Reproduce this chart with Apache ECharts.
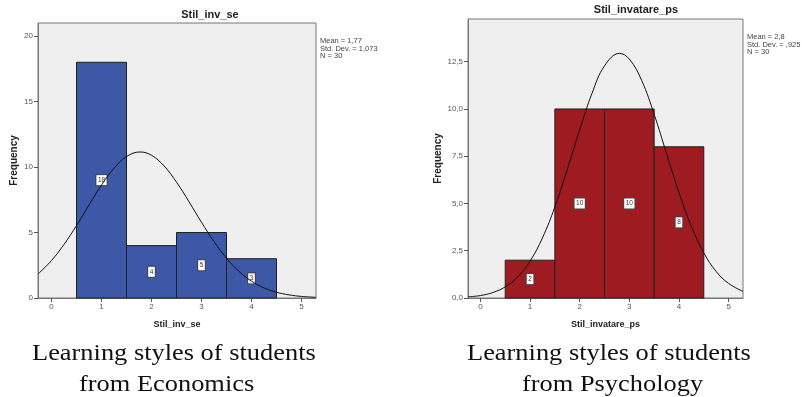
<!DOCTYPE html>
<html>
<head>
<meta charset="utf-8">
<script src="https://cdn.jsdelivr.net/npm/echarts@6/dist/echarts.min.js"></script>
<style>
html,body{margin:0;padding:0;background:#fff;}
#main{width:802px;height:397px;}
</style>
</head>
<body>
<div id="main"></div>
<script>
// ---- Data ----
const binStarts = [0.5, 1.5, 2.5, 3.5];
const binEnds = [1.5, 2.5, 3.5, 4.5];
const binCenters = [1, 2, 3, 4];
const econCounts = [18, 4, 5, 3];
const psyCounts = [2, 10, 10, 8];
const xTickValues = [0, 1, 2, 3, 4, 5];

// fitted normal curves (x, frequency)
const econCurveX = [-0.27, 0, 0.25, 0.5, 0.75, 1.0, 1.25, 1.5, 1.77, 2.0, 2.25, 2.5, 2.75, 3.0, 3.25, 3.5, 3.75, 4.0, 4.25, 4.5, 4.75, 5.0, 5.29];
const econCurveY = [1.83, 2.86, 4.09, 5.53, 7.10, 8.62, 9.91, 10.80, 11.15, 10.90, 10.09, 8.85, 7.35, 5.78, 4.31, 3.04, 2.03, 1.29, 0.77, 0.44, 0.24, 0.12, 0.05];
const psyCurveX = [-0.25, 0, 0.25, 0.5, 0.75, 1.0, 1.25, 1.5, 1.75, 2.0, 2.25, 2.5, 2.8, 3.0, 3.25, 3.5, 3.75, 4.0, 4.25, 4.5, 4.75, 5.0, 5.29];
const psyCurveY = [0.06, 0.13, 0.29, 0.59, 1.11, 1.95, 3.18, 4.82, 6.80, 8.90, 10.84, 12.28, 12.94, 12.64, 11.50, 9.72, 7.64, 5.58, 3.79, 2.39, 1.40, 0.77, 0.35];

const econTitle = 'Stil_inv_se';
const psyTitle = 'Stil_invatare_ps';
const econStats = ['Mean = 1,77', 'Std. Dev. = 1,073', 'N = 30'];
const psyStats = ['Mean = 2,8', 'Std. Dev. = ,925', 'N = 30'];
const econCaption = ['Learning styles of students', 'from Economics'];
const psyCaption = ['Learning styles of students', 'from Psychology'];

// ---- Chart ----
const chart = echarts.init(document.getElementById('main'), null, {renderer: 'canvas'});
const FONT = 'Liberation Sans, Arial, sans-serif';

function barData(counts) {
  return counts.map((c, i) => [binStarts[i], binEnds[i], c, binCenters[i]]);
}
function renderBar(color) {
  return function (params, api) {
    const x0 = api.value(0), x1 = api.value(1), c = api.value(2), xc = api.value(3);
    const p0 = api.coord([x0, c]);
    const p1 = api.coord([x1, 0]);
    const pl = api.coord([xc, c / 2]);
    return {
      type: 'group',
      children: [
        {
          type: 'rect',
          shape: {x: p0[0], y: p0[1], width: p1[0] - p0[0], height: p1[1] - p0[1]},
          style: {fill: color, stroke: '#1f1f1f', lineWidth: 1}
        },
        {
          type: 'text',
          z2: 10,
          style: {
            x: pl[0], y: pl[1], text: String(c),
            align: 'center', verticalAlign: 'middle',
            font: '6.5px ' + FONT, fill: '#333',
            backgroundColor: '#fff', borderColor: '#444', borderWidth: 1,
            padding: [2, 1.5, 1, 1.5]
          }
        }
      ]
    };
  };
}
function curve(xs, ys) {
  return xs.map((x, i) => [x, ys[i]]);
}

const commaFmt1 = v => v.toFixed(1).replace('.', ',');

function xAxisCfg(idx, name, min, max) {
  return {
    type: 'value', gridIndex: idx, min: min, max: max,
    name: name, nameLocation: 'middle', nameGap: 22,
    nameTextStyle: {fontFamily: FONT, fontSize: 9, fontWeight: 'bold', color: '#222'},
    splitLine: {show: false},
    axisLine: {show: true, onZero: false, lineStyle: {color: '#777', width: 1}},
    axisTick: {show: true, inside: false, length: 4, customValues: xTickValues, lineStyle: {color: '#555'}},
    axisLabel: {customValues: xTickValues, fontFamily: FONT, fontSize: 8, color: '#555', margin: 5,
                showMinLabel: true, showMaxLabel: true}
  };
}
function yAxisCfg(idx, max, interval, fmt, gap) {
  return {
    type: 'value', gridIndex: idx, min: 0, max: max, interval: interval,
    name: 'Frequency', nameLocation: 'middle', nameGap: gap, nameRotate: 90,
    nameTextStyle: {fontFamily: FONT, fontSize: 10, fontWeight: 'bold', color: '#222'},
    splitLine: {show: false},
    axisLine: {show: true, onZero: false, lineStyle: {color: '#777', width: 1}},
    axisTick: {show: true, inside: false, length: 4, lineStyle: {color: '#555'}},
    axisLabel: {formatter: fmt, fontFamily: FONT, fontSize: 8, color: '#555', margin: 5,
                showMaxLabel: false}
  };
}

function statsText(x, y, lines) {
  return {
    type: 'text', left: x, top: y,
    style: {text: lines.join('\n'), font: '7.5px ' + FONT, fill: '#444', lineHeight: 7.5}
  };
}
function titleText(cx, y, t) {
  return {
    type: 'text', x: cx, y: y,
    style: {text: t, font: 'bold 11px ' + FONT, fill: '#222', align: 'center', verticalAlign: 'middle'}
  };
}
function captionText(x, y, t, sx) {
  return {
    type: 'text', x: x, y: y, scaleX: sx, originX: 0,
    style: {text: t, font: '24px "Liberation Serif", "Times New Roman", serif', fill: '#111', align: 'left', verticalAlign: 'middle'}
  };
}

const option = {
  animation: false,
  backgroundColor: '#fff',
  grid: [
    {left: 38, top: 23, width: 278, height: 275, show: true, backgroundColor: '#efeff0', borderColor: '#777', borderWidth: 1},
    {left: 468, top: 19, width: 275, height: 279, show: true, backgroundColor: '#efeff0', borderColor: '#777', borderWidth: 1}
  ],
  xAxis: [
    xAxisCfg(0, econTitle, -0.27, 5.29),
    xAxisCfg(1, psyTitle, -0.25, 5.29)
  ],
  yAxis: [
    yAxisCfg(0, 21, 5, v => String(v), 19),
    yAxisCfg(1, 14.76, 2.5, commaFmt1, 25)
  ],
  series: [
    {type: 'custom', xAxisIndex: 0, yAxisIndex: 0, renderItem: renderBar('#3c58a6'), data: barData(econCounts), z: 2,
     encode: {x: [0, 1], y: 2}},
    {type: 'line', xAxisIndex: 0, yAxisIndex: 0, data: curve(econCurveX, econCurveY), smooth: 0.4, symbol: 'none',
     lineStyle: {color: '#111', width: 1}, z: 3},
    {type: 'custom', xAxisIndex: 1, yAxisIndex: 1, renderItem: renderBar('#9e1c21'), data: barData(psyCounts), z: 2,
     encode: {x: [0, 1], y: 2}},
    {type: 'line', xAxisIndex: 1, yAxisIndex: 1, data: curve(psyCurveX, psyCurveY), smooth: 0.4, symbol: 'none',
     lineStyle: {color: '#111', width: 1}, z: 3}
  ],
  graphic: [
    titleText(210, 15, econTitle),
    titleText(636, 10, psyTitle),
    statsText(320, 37, econStats),
    statsText(747, 33, psyStats),
    captionText(32, 354, econCaption[0], 1.1),
    captionText(79, 385, econCaption[1], 1.1),
    captionText(467, 354, psyCaption[0], 1.1),
    captionText(522, 385, psyCaption[1], 1.1)
  ]
};
chart.setOption(option);
</script>
</body>
</html>
